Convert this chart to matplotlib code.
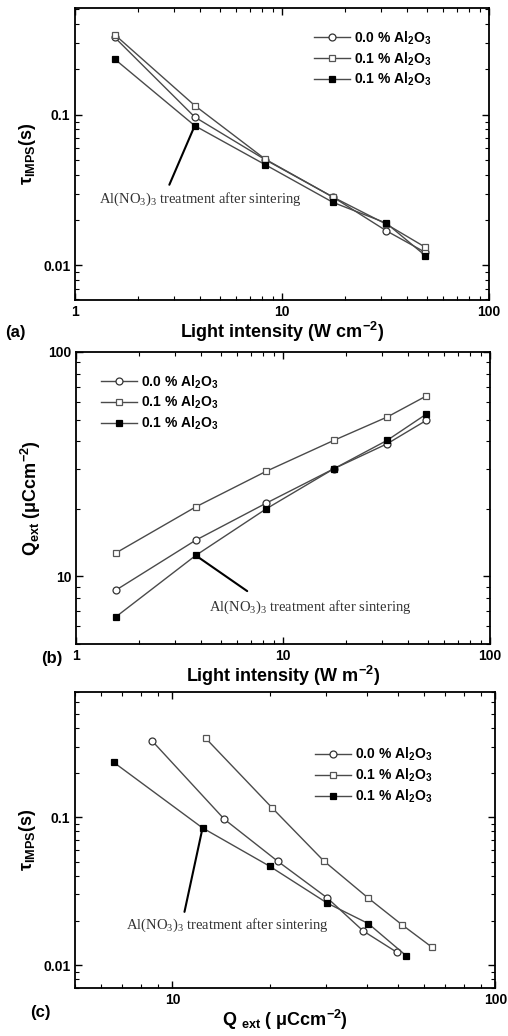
import numpy as np
import matplotlib
matplotlib.use('Agg')
import matplotlib.pyplot as plt

plt.rcParams['font.family'] = ['Liberation Sans', 'DejaVu Sans']
plt.rcParams['font.weight'] = 'bold'
plt.rcParams['axes.labelweight'] = 'bold'
plt.rcParams['mathtext.default'] = 'regular'

# light intensity values
intensity = [1.55, 3.78, 8.28, 17.6, 31.8, 49.2]

# tau_IMPS (s)
tau_00 = [0.326, 0.0965, 0.0503, 0.0284, 0.0170, 0.0122]
tau_01 = [0.340, 0.115, 0.0507, 0.0284, 0.0188, 0.0132]
tau_01t = [0.234, 0.0845, 0.0466, 0.0262, 0.0191, 0.0116]

# Q_ext (uC cm-2)
q_00 = [8.67, 14.5, 21.2, 30.2, 39.0, 49.6]
q_01 = [12.7, 20.4, 29.4, 40.4, 51.3, 63.7]
q_01t = [6.59, 12.4, 20.0, 30.2, 40.4, 52.9]

labels = ['0.0 % Al$_2$O$_3$', '0.1 % Al$_2$O$_3$', '0.1 % Al$_2$O$_3$']
note = 'Al(NO$_3$)$_3$ treatment after sintering'

line_col = '#4a4a4a'
styles = [dict(marker='o', mfc='white', mec='#333333'),
          dict(marker='s', mfc='white', mec='#555555'),
          dict(marker='s', mfc='black', mec='black')]


def draw(ax, xs, ys):
    for x, y, st, lab in zip(xs, ys, styles, labels):
        ax.plot(x, y, color=line_col, lw=1.0, ms=5, mew=0.9, label=lab, **st)
    ax.set_xscale('log')
    ax.set_yscale('log')
    ax.tick_params(which='both', direction='in', top=True, right=True, labelsize=10)
    ax.tick_params(which='major', length=5, width=1)
    ax.tick_params(which='minor', length=3, width=0.8)
    for s in ax.spines.values():
        s.set_linewidth(1.3)
    ax.xaxis.set_major_formatter(matplotlib.ticker.FormatStrFormatter('%g'))
    ax.yaxis.set_major_formatter(matplotlib.ticker.FormatStrFormatter('%g'))
    ax.xaxis.set_minor_formatter(matplotlib.ticker.NullFormatter())
    ax.yaxis.set_minor_formatter(matplotlib.ticker.NullFormatter())


def note_text(ax, x, y):
    ax.text(x, y, note, family='Liberation Serif', fontweight='normal',
            fontsize=10.5, ha='center', va='center', color='#333333')


fig = plt.figure(figsize=(5.08, 10.36), dpi=100)
axa = fig.add_axes([0.148, 0.7104, 0.815, 0.2819])
axb = fig.add_axes([0.150, 0.3784, 0.815, 0.2819])
axc = fig.add_axes([0.148, 0.0463, 0.827, 0.2857])

# (a)
draw(axa, [intensity] * 3, [tau_00, tau_01, tau_01t])
axa.set_xlim(1, 100)
axa.set_ylim(0.0059, 0.51)
axa.set_xlabel('Light intensity (W cm$^{-2}$)', fontsize=13, labelpad=1)
axa.set_ylabel('τ$_{IMPS}$(s)', fontsize=13)
axa.legend(loc='upper right', bbox_to_anchor=(0.89, 0.97), frameon=False,
           fontsize=10, handlelength=2.6, labelspacing=0.25, handletextpad=0.3)
axa.annotate('', xy=(intensity[1], tau_01t[1]), xytext=(2.85, 0.0343),
             arrowprops=dict(arrowstyle='-', lw=1.5, color='black', shrinkA=0, shrinkB=3))
note_text(axa, 4.0, 0.0273)
fig.text(0.01, 1 - 333 / 1036, '(a)', fontsize=12, fontweight='bold', va='center')

# (b)
draw(axb, [intensity] * 3, [q_00, q_01, q_01t])
axb.set_xlim(1, 100)
axb.set_ylim(5, 100)
axb.set_xlabel('Light intensity (W m$^{-2}$)', fontsize=13, labelpad=1)
axb.set_ylabel('Q$_{ext}$ (μCcm$^{-2}$)', fontsize=13)
axb.legend(loc='upper left', bbox_to_anchor=(0.03, 0.97), frameon=False,
           fontsize=10, handlelength=2.6, labelspacing=0.25, handletextpad=0.3)
axb.annotate('', xy=(intensity[1], q_01t[1]), xytext=(6.7, 8.6),
             arrowprops=dict(arrowstyle='-', lw=1.5, color='black', shrinkA=0, shrinkB=3))
note_text(axb, 13.5, 7.28)
fig.text(0.08, 1 - 658 / 1036, '(b)', fontsize=12, fontweight='bold', va='center')

# (c)
draw(axc, [q_00, q_01, q_01t], [tau_00, tau_01, tau_01t])
axc.set_xlim(5, 100)
axc.set_ylim(0.007, 0.7)
axc.set_xlabel('Q $_{ext}$ ( μCcm$^{-2}$)', fontsize=13, labelpad=1)
axc.set_ylabel('τ$_{IMPS}$(s)', fontsize=13)
axc.legend(loc='upper right', bbox_to_anchor=(0.88, 0.86), frameon=False,
           fontsize=10, handlelength=2.6, labelspacing=0.25, handletextpad=0.3)
axc.annotate('', xy=(q_01t[1], tau_01t[1]), xytext=(10.9, 0.0229),
             arrowprops=dict(arrowstyle='-', lw=1.5, color='black', shrinkA=0, shrinkB=3))
note_text(axc, 14.8, 0.0186)
fig.text(0.06, 1 - 1012 / 1036, '(c)', fontsize=12, fontweight='bold', va='center')

fig.savefig('out.png', dpi=100)
